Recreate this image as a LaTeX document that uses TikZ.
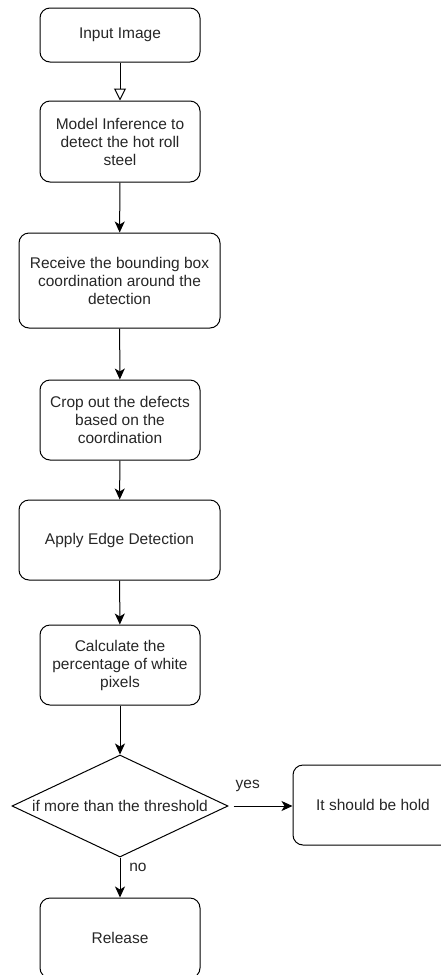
\documentclass[tikz,border=0pt]{standalone}
\usepackage{fontspec}
\setmainfont{Liberation Sans}
\usetikzlibrary{arrows.meta,shapes.geometric}
\begin{document}
\begin{tikzpicture}[x=1pt, y=-1pt,
    stepbox/.style={draw, line width=1pt, rounded corners=10pt, minimum width=160pt,
        minimum height=80pt, align=center, text=black!85,
        font=\fontsize{15.5pt}{18pt}\selectfont},
    widebox/.style={stepbox, minimum width=201pt},
    decide/.style={draw, line width=1pt, diamond, aspect=2.12, inner sep=0pt, minimum width=216pt,
        minimum height=102pt, text=black!85, font=\fontsize{15.5pt}{18pt}\selectfont},
    flow/.style={line width=1pt, -{Stealth[length=11pt, width=10pt, inset=3pt]}},
    lbl/.style={text=black!85, font=\fontsize{15.5pt}{18pt}\selectfont}]
    \useasboundingbox (0,0) rectangle (441,975);
    \clip (0,0) rectangle (441,975);

        \node[stepbox, minimum height=54pt] (input) at(120, 35){Input Image};
        \node[stepbox, minimum height=81pt] (model) at(120, 141.5){Model Inference to\\detect the hot roll\\steel};
        \node[widebox, minimum height=95pt] (receive) at(119.5, 280.5){Receive the bounding box\\coordination around the\\detection};
        \node[stepbox] (crop) at(120, 420){Crop out the defects\\based on the\\coordination};
        \node[widebox] (apply) at(119.5, 540){Apply Edge Detection};
        \node[stepbox] (calc) at(120, 665){Calculate the\\percentage of white\\pixels};
        \node[decide] (thresh) at(120, 806){if more than the threshold};
        \node[stepbox] (hold) at(373, 805){It should be hold};
        \node[stepbox] (release) at(120, 938){Release};

        \draw[line width=1pt, -{Triangle[open, length=12pt, width=12pt]}](input) to (model);
        \draw[flow](model) to (receive);
        \draw[flow](receive) to (crop);
        \draw[flow](crop) to (apply);
        \draw[flow](apply) to (calc);
        \draw[flow](calc) to (thresh);

        \draw[flow, shorten <=5pt](thresh.east) to node[lbl, pos=0.3, yshift=20pt](yes){yes} (hold.west |- thresh.east);
        \draw[flow](thresh.south) to node[lbl, pos=0.25, xshift=18pt](no){no} (release);
\end{tikzpicture}
\end{document}
